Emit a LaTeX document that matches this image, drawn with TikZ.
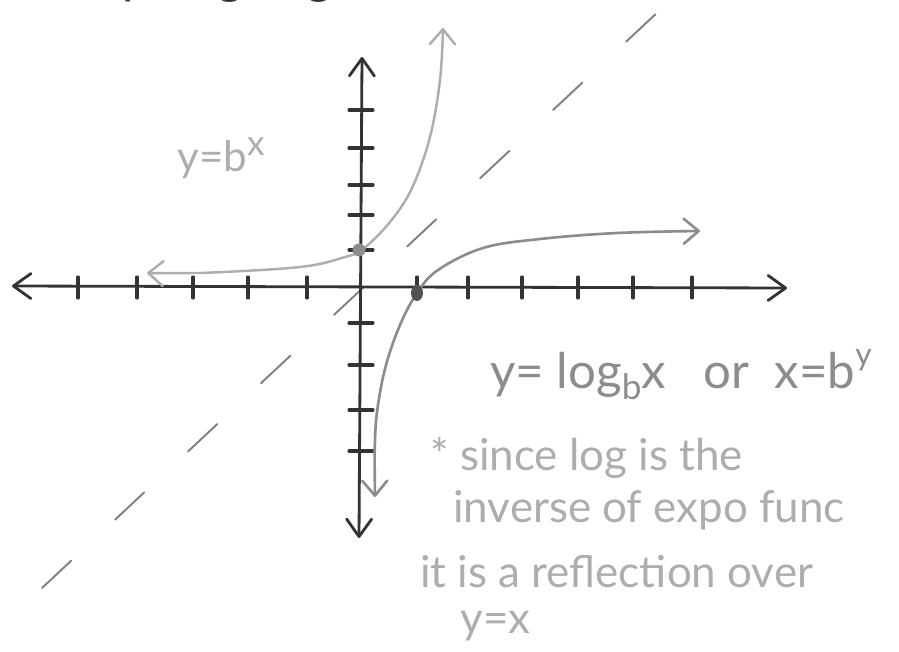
\documentclass[tikz,border=0pt]{standalone}
\usepackage{fontspec}
\setmainfont{Lato}
\usetikzlibrary{arrows.meta}

\definecolor{pencil}{gray}{0.2}
\definecolor{midpencil}{gray}{0.55}
\definecolor{softpencil}{gray}{0.68}

\tikzset{
  axistip/.tip={Straight Barb[length=3.5mm,width=5mm,round]},
  curvetip/.tip={Straight Barb[length=3mm,width=5mm,round]},
  axisline/.style={pencil, line width=1.6pt, line cap=round, axistip-axistip},
  tickmark/.style={pencil, line width=1.8pt, line cap=round},
  expline/.style={softpencil, line width=1.4pt, line cap=round, curvetip-curvetip},
  logline/.style={midpencil, line width=1.5pt, line cap=round, curvetip-curvetip},
  mirrorline/.style={gray, line width=1.1pt, line cap=round, dash pattern=on 0.8cm off 1.2cm},
  notetext/.style={softpencil, anchor=base west, font=\fontsize{25}{28}\selectfont}
}

\begin{document}
\begin{tikzpicture}[x=0.02cm, y=-0.02cm, every node/.style={inner sep=0pt}]
\useasboundingbox (0,0) rectangle (899,652);
\clip (0,0) rectangle (899,652);

\node[pencil, anchor=base west, font=\fontsize{28}{30}\selectfont] (title) at (45,-6.5) {Graphing Logarithms};

\draw[mirrorline] (42,588) -- (660,10);

\draw[axisline] (12,286) -- (787,288);
\draw[axisline] (362,57) -- (359,538);
\foreach \x in {78,137,193,248,307,417,468,522,578,633,692}
  \draw[tickmark] (\x,277) -- (\x,298);
\foreach \y in {110,148,185,215,250,323,365,410,451}
  \draw[tickmark] (349,\y) -- (373,\y);

\draw[expline] plot[smooth, tension=0.6] coordinates {(147,273) (200,273) (300,267) (345,257) (363,249) (390,222) (412,188) (430,137) (440,80) (443,28)};
\draw[logline] plot[smooth, tension=0.6] coordinates {(375,497) (375,440) (378,405) (386,365) (400,325) (417,293) (438,270) (483,248) (540,239) (617,233) (700,231)};

\fill[midpencil] (359,250) circle[radius=1.3mm];
\fill[pencil!85] (417,293) ellipse[x radius=1.2mm, y radius=1.6mm];

\node[softpencil, anchor=base west, font=\fontsize{24}{26}\selectfont] (expo) at (177,172) {y=b\raisebox{0.75ex}{\fontsize{20}{20}\selectfont x}};
\node[midpencil, anchor=base west, font=\fontsize{28}{30}\selectfont] (logeq) at (490,388) {y= log\raisebox{-0.45ex}{\fontsize{20}{20}\selectfont b}x \ \ or \ x=b\raisebox{0.9ex}{\fontsize{18}{18}\selectfont y}};

\node[notetext] (note1) at (430,470) {* since log is the};
\node[notetext] (note2) at (453,522) {inverse of expo func};
\node[notetext] (note3) at (420,587) {it is a reflection over};
\node[notetext] (note4) at (460,633) {y=x};
\end{tikzpicture}
\end{document}
